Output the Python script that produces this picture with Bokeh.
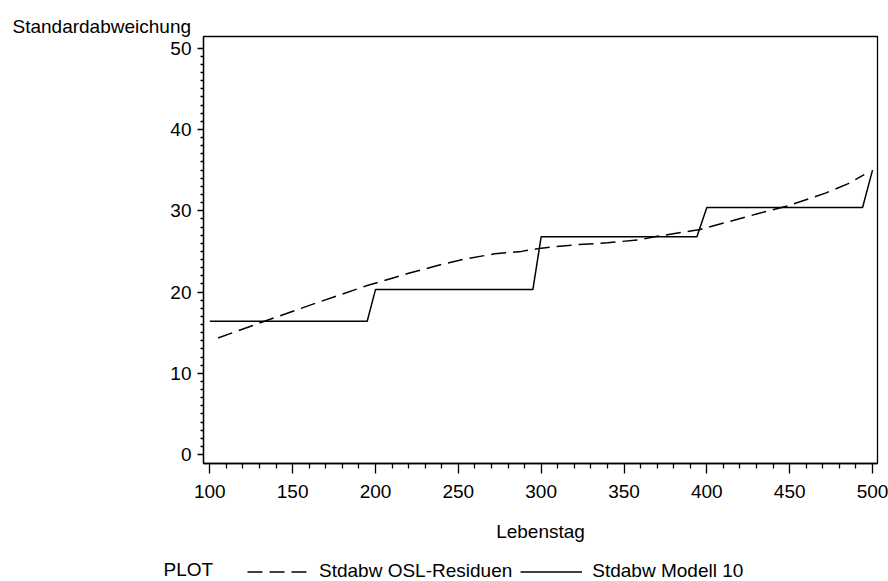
from bokeh.plotting import figure
from bokeh.layouts import column
from bokeh.models import FixedTicker, Title, Legend, LegendItem, Range1d, ColumnDataSource, Label
from bokeh.embed import file_html
from bokeh.resources import INLINE

# --- data ---
day_osl = [105, 133, 165, 195, 220, 241, 255, 272, 288, 300, 320, 340, 360, 370,
           396, 414, 430, 449, 472, 485, 495]
sd_osl = [14.35, 16.4, 18.7, 20.8, 22.3, 23.45, 24.1, 24.7, 25.0, 25.4, 25.8, 26.05,
          26.45, 26.85, 27.7, 28.7, 29.6, 30.6, 32.2, 33.3, 34.45]

day_modell = [100, 195, 200, 295, 300, 394, 400, 494, 500]
sd_modell = [16.4, 16.4, 20.3, 20.3, 26.8, 26.8, 30.4, 30.4, 35.0]

x_ticks = [100, 150, 200, 250, 300, 350, 400, 450, 500]
x_minor = [v for v in range(100, 501, 10) if v % 50]
y_ticks = [0, 10, 20, 30, 40, 50]
y_minor = [v for v in range(0, 51) if v % 10]

series_labels = ["Stdabw OSL-Residuen", "Stdabw Modell 10"]
legend_title = "PLOT"
x_label = "Lebenstag"
y_label = "Standardabweichung"

FONT = "Liberation Sans"
FS = "19px"
DASH = "15 7"

p = figure(width=888, height=548, x_range=Range1d(96.2, 503), y_range=Range1d(-1.1, 51.44),
           output_backend="svg", toolbar_location=None,
           min_border_left=203, min_border_right=11, min_border_top=36, min_border_bottom=85)
p.frame_align = False
p.grid.visible = False
p.outline_line_color = "black"
p.outline_line_width = 1.3
p.background_fill_color = "white"
p.border_fill_color = "white"

src_osl = ColumnDataSource(dict(x=day_osl, y=sd_osl))
src_mod = ColumnDataSource(dict(x=day_modell, y=sd_modell))
p.line("x", "y", source=src_osl, line_color="black", line_width=1.5, line_dash=DASH)
p.line("x", "y", source=src_mod, line_color="black", line_width=1.5)

xa = p.xaxis[0]
xa.ticker = FixedTicker(ticks=x_ticks, minor_ticks=x_minor)
xa.major_tick_in = 0
xa.major_tick_out = 10
xa.minor_tick_in = 0
xa.minor_tick_out = 5
xa.major_tick_line_width = 1.3
xa.minor_tick_line_width = 1.3
xa.axis_line_width = 1.3
xa.major_label_text_font = FONT
xa.major_label_text_font_size = FS
xa.major_label_text_color = "black"
xa.major_label_standoff = 11
xa.axis_label = x_label
xa.axis_label_text_font = FONT
xa.axis_label_text_font_size = FS
xa.axis_label_text_font_style = "normal"
xa.axis_label_text_color = "black"
xa.axis_label_standoff = 20

ya = p.yaxis[0]
ya.ticker = FixedTicker(ticks=y_ticks, minor_ticks=y_minor)
ya.major_tick_in = 0
ya.major_tick_out = 6
ya.minor_tick_in = 0
ya.minor_tick_out = 3
ya.major_tick_line_width = 1.3
ya.minor_tick_line_width = 1.3
ya.axis_line_width = 1.3
ya.major_label_text_font = FONT
ya.major_label_text_font_size = FS
ya.major_label_text_color = "black"
ya.major_label_standoff = 6
ya.major_label_orientation = "horizontal"

p.add_layout(Title(text=y_label, align="left", offset=-191, text_font=FONT, text_color="black",
                   text_font_size=FS, text_font_style="normal", standoff=0), "above")

# --- legend strip below the chart ---
leg = figure(width=888, height=33, x_range=Range1d(0, 888), y_range=Range1d(0, 33),
             output_backend="svg", toolbar_location=None, x_axis_type=None, y_axis_type=None,
             min_border_left=0, min_border_right=0, min_border_top=0, min_border_bottom=0)
leg.frame_align = False
leg.grid.visible = False
leg.outline_line_color = None
leg.border_fill_color = "white"
lr1 = leg.line("x", "y", source=src_osl, line_color="black", line_width=1.5, line_dash=DASH)
lr2 = leg.line("x", "y", source=src_mod, line_color="black", line_width=1.5)
lr1.visible = False
lr2.visible = False

legend = Legend(items=[LegendItem(label=series_labels[0], renderers=[lr1]),
                       LegendItem(label=series_labels[1], renderers=[lr2])],
                orientation="horizontal",
                glyph_width=62, glyph_height=19, label_standoff=10, spacing=8,
                padding=0, margin=0, border_line_color=None, background_fill_alpha=0,
                location=(247, -1),
                label_text_font=FONT, label_text_font_size=FS, label_text_color="black")
leg.add_layout(legend, "center")
leg.add_layout(Label(x=163, y=12, text=legend_title, text_font=FONT, text_font_size=FS,
                     text_color="black", text_baseline="middle"))

layout = column(p, leg, spacing=0)
open("out.html", "w").write(file_html(layout, INLINE))
